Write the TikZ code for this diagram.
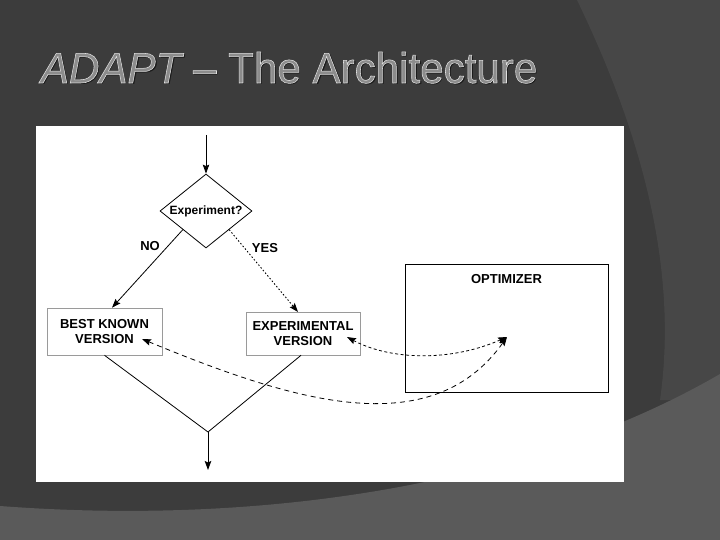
\documentclass[tikz,border=0pt]{standalone}
\usepackage{fontspec}
\setmainfont{Liberation Sans}
\usepackage{tikz}
\usetikzlibrary{shapes.geometric,arrows.meta,calc,positioning}

\definecolor{bgdark}{HTML}{3C3C3C}
\definecolor{bgmid}{HTML}{474747}
\definecolor{bgband}{HTML}{5A5A5A}
\definecolor{boxgray}{HTML}{9A9A9A}
\definecolor{titlegray}{HTML}{8C8C8C}

% outlined text: fill and stroke
\newcommand{\outlined}[1]{\special{pdf:literal direct 2 Tr 0.55 w 0.88 0.88 0.88 RG}#1\special{pdf:literal direct 0 Tr}}

\tikzset{
    arr/.style={-{Stealth[length=9pt,width=6.5pt,inset=1.5pt]}},
    darr/.style={{Stealth[length=9pt,width=6.5pt,inset=1.5pt]}-{Stealth[length=9pt,width=6.5pt,inset=1.5pt]}},
    verbox/.style={draw=boxgray,line width=0.6pt,align=center,inner sep=0pt},
    lbl/.style={font=\fontsize{13}{14.5}\selectfont\bfseries}
}

\begin{document}
\begin{tikzpicture}[x=1pt,y=-1pt,line width=0.8pt]
    \useasboundingbox (0,0) rectangle (720,540);
    \fill[bgdark] (0,0) rectangle (720,540);
    \fill[bgmid] (577,0) .. controls (635,120) and (680,260) .. (660,400) -- (720,400) -- (720,0) -- cycle;
    \fill[bgband] (0,506) .. controls (250,525) and (520,490) .. (720,374) -- (720,540) -- (0,540) -- cycle;

    % title
    \node[anchor=base west,inner sep=0pt,xscale=0.98,text=black!90,font=\fontsize{43}{50}\selectfont] (titleshadow) at (42,84.5)
        {{\itshape ADAPT} -- The Architecture};
    \node[anchor=base west,inner sep=0pt,xscale=0.98,text=titlegray,font=\fontsize{43}{50}\selectfont] (title) at (40.5,83)
        {\outlined{{\itshape ADAPT} -- The Architecture}};

    \fill[white] (36,126) rectangle (624,482);

    \coordinate (start) at (206,135);
    \node[diamond,draw,inner sep=0pt,aspect=1.25,minimum width=92pt,minimum height=74pt,
        font=\fontsize{12}{13}\selectfont\bfseries] (exper) at (206,211) {Experiment?};
    \node[verbox,lbl,minimum width=115pt,minimum height=47pt] (best) at (104.5,331.5) {BEST KNOWN\\VERSION};
    \node[verbox,lbl,minimum width=114pt,minimum height=43pt] (expv) at (303,333.5) {EXPERIMENTAL\\VERSION};
    \node[draw,line width=1pt,minimum width=203pt,minimum height=128pt] (optim) at (506.5,328) {};
    \node[lbl,anchor=base] (optlab) at (506.5,283) {OPTIMIZER};
    \node[lbl] (no) at (150,246) {NO};
    \node[lbl] (yes) at (265,248) {YES};

    \coordinate (optin) at (507,337);
    \coordinate (bestin) at (142,339);
    \coordinate (expin) at (347,337);
    \coordinate (join) at (208,432);
    \coordinate (finish) at (208,470);

    \draw[arr] (start) -- (exper.north);
    \draw[arr] (exper.south west) -- (best.north -| 112,0);
    \draw[arr,line width=0.9pt,dash pattern=on 1.5pt off 2pt] (exper.south east) -- (298,312);

    \draw[darr,dash pattern=on 3pt off 2.5pt] (expin) .. controls (390,360) and (450,362) .. (optin);
    \draw[darr,dash pattern=on 5pt off 4pt] (bestin) .. controls (290,400) and (430,445) .. (optin);

    \draw (best.south) -- (join);
    \draw (expv.south -| 301,0) -- (join);
    \draw[arr] (join) -- (finish);
\end{tikzpicture}
\end{document}
